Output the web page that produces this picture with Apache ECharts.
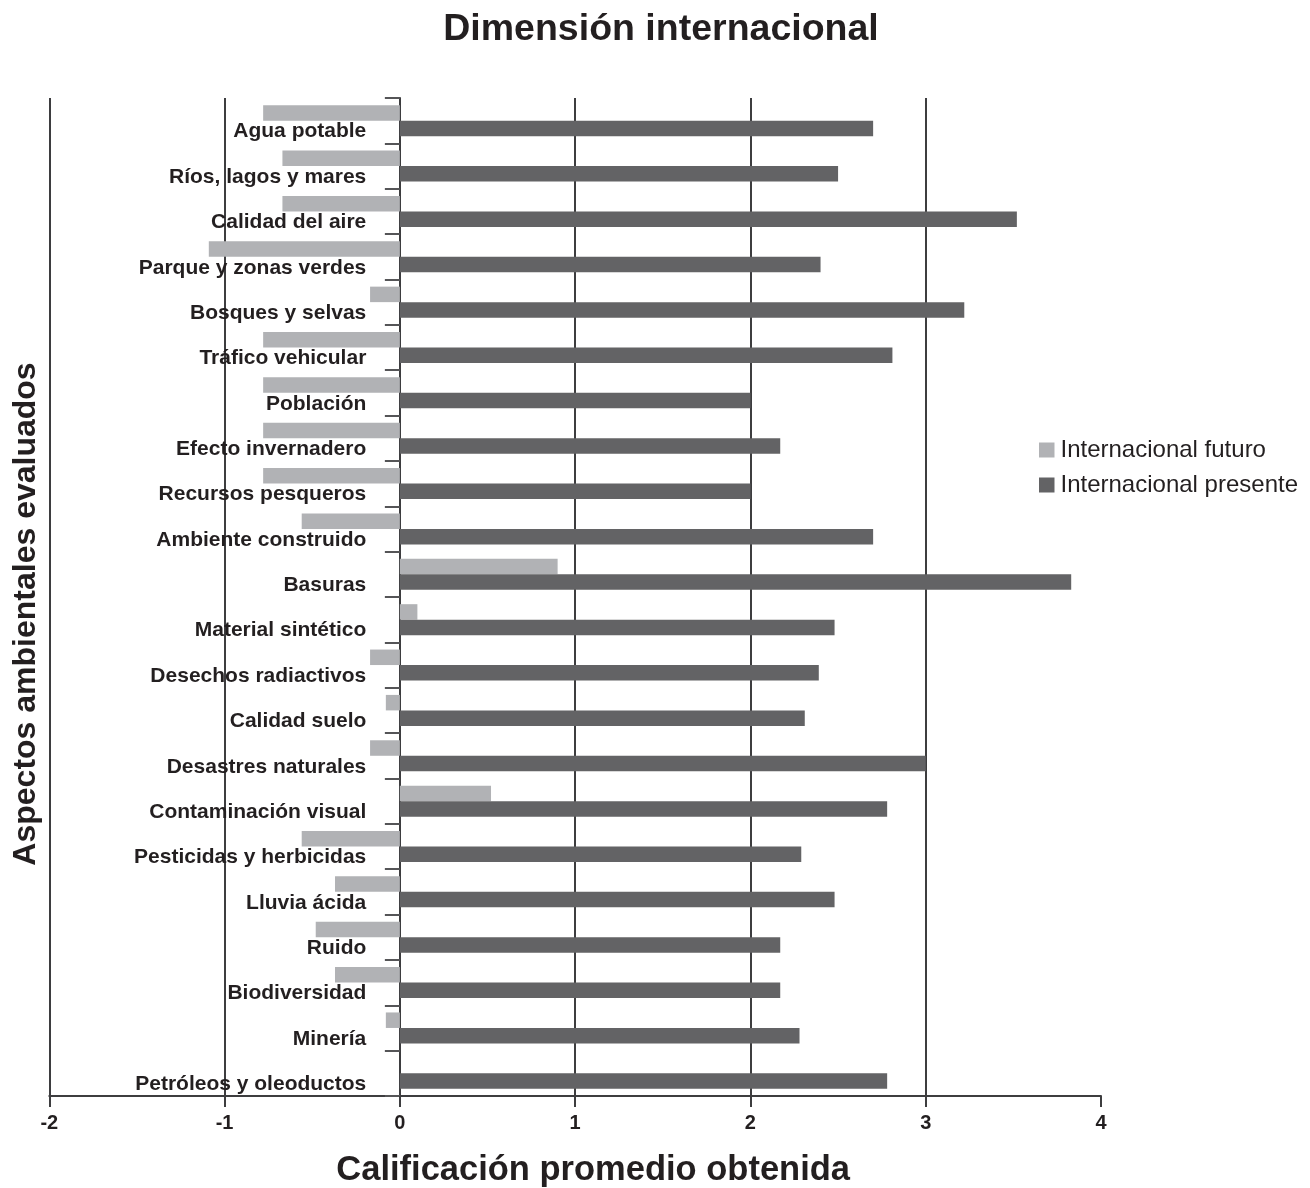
<!DOCTYPE html>
<html lang="es">
<head>
<meta charset="utf-8">
<title>Dimensión internacional</title>
<script src="https://cdn.jsdelivr.net/npm/echarts@6/dist/echarts.min.js"></script>
<style>
  html, body { margin: 0; padding: 0; background: #ffffff; }
  #chart { width: 1310px; height: 1188px; }
</style>
</head>
<body>
<div id="chart"></div>
<script>
// Aspectos ambientales evaluados (de arriba hacia abajo)
const categories = [
  'Agua potable', 'Ríos, lagos y mares', 'Calidad del aire', 'Parque y zonas verdes',
  'Bosques y selvas', 'Tráfico vehicular', 'Población', 'Efecto invernadero',
  'Recursos pesqueros', 'Ambiente construido', 'Basuras', 'Material sintético',
  'Desechos radiactivos', 'Calidad suelo', 'Desastres naturales', 'Contaminación visual',
  'Pesticidas y herbicidas', 'Lluvia ácida', 'Ruido', 'Biodiversidad', 'Minería',
  'Petróleos y oleoductos'
];

// Calificación promedio – futuro
const futuro = [
  -0.78, -0.67, -0.67, -1.09, -0.17, -0.78, -0.78, -0.78, -0.78, -0.56, 0.90,
  0.10, -0.17, -0.08, -0.17, 0.52, -0.56, -0.37, -0.48, -0.37, -0.08, 0
];

// Calificación promedio – presente
const presente = [
  2.70, 2.50, 3.52, 2.40, 3.22, 2.81, 2.00, 2.17, 2.00, 2.70, 3.83,
  2.48, 2.39, 2.31, 3.00, 2.78, 2.29, 2.48, 2.17, 2.17, 2.28, 2.78
];

// Marcas del eje de calificación
const xTicks = [-2, -1, 0, 1, 2, 3, 4];

const seriesNames = ['Internacional futuro', 'Internacional presente'];

const FONT = '"Liberation Sans", Arial, Helvetica, sans-serif';
const INK = '#231f20';
const LINE = '#3d3d3f';

const chart = echarts.init(document.getElementById('chart'), null, { renderer: 'canvas' });

chart.setOption({
  animation: false,
  backgroundColor: '#ffffff',
  textStyle: { fontFamily: FONT, color: INK },
  title: {
    text: 'Dimensión internacional',
    left: 661,
    top: 11,
    padding: 0,
    textAlign: 'center',
    textStyle: { fontFamily: FONT, fontSize: 37.5, fontWeight: 'bold', color: INK }
  },
  legend: {
    orient: 'vertical',
    left: 1034,
    top: 433,
    itemWidth: 15.5,
    itemHeight: 15,
    itemGap: 11,
    icon: 'rect',
    data: seriesNames,
    textStyle: { fontFamily: FONT, fontSize: 24, color: INK, padding: [0, 0, 0, 1] }
  },
  grid: {
    left: 49.3,
    right: 209,
    top: 98,
    bottom: 92,
    containLabel: false,
    outerBoundsMode: 'none'
  },
  xAxis: {
    type: 'value',
    min: xTicks[0],
    max: xTicks[xTicks.length - 1],
    interval: 1,
    name: 'Calificación promedio obtenida',
    nameLocation: 'middle',
    nameGap: 57,
    nameTextStyle: {
      fontFamily: FONT, fontSize: 34.5, fontWeight: 'bold', color: INK,
      padding: [0, 0, 0, 36]
    },
    axisLine: { show: true, lineStyle: { color: LINE, width: 2 } },
    axisTick: { show: true, length: 11, lineStyle: { color: LINE, width: 2 } },
    axisLabel: {
      show: true, margin: 17,
      fontFamily: FONT, fontSize: 20, fontWeight: 'bold', color: INK,
      showMinLabel: true, showMaxLabel: true
    },
    splitLine: {
      show: true,
      showMinLine: true,
      showMaxLine: false,
      lineStyle: { color: LINE, width: 2 }
    }
  },
  yAxis: {
    type: 'category',
    data: categories,
    inverse: true,
    axisLine: { show: true, onZero: true, lineStyle: { color: LINE, width: 2 } },
    axisTick: { show: true, length: 15, alignWithLabel: false, lineStyle: { color: '#555557', width: 2 } },
    axisLabel: {
      show: true, margin: -317, interval: 0,
      fontFamily: FONT, fontSize: 21, fontWeight: 'bold', color: INK,
      verticalAlign: 'top', lineHeight: 22
    },
    splitLine: { show: false }
  },
  graphic: [{
    type: 'text',
    x: 26,
    y: 614,
    rotation: Math.PI / 2,
    style: {
      text: 'Aspectos ambientales evaluados',
      fontFamily: FONT,
      fontSize: 32,
      fontWeight: 'bold',
      fill: INK,
      align: 'center',
      verticalAlign: 'middle'
    }
  }],
  series: [
    {
      name: seriesNames[0],
      type: 'bar',
      data: futuro,
      barWidth: 15.5,
      barGap: '0%',
      itemStyle: { color: '#b1b2b5' },
      z: 1
    },
    {
      name: seriesNames[1],
      type: 'bar',
      data: presente,
      barWidth: 15.5,
      barGap: '0%',
      itemStyle: { color: '#636365' },
      z: 1
    }
  ]
});
</script>
</body>
</html>
